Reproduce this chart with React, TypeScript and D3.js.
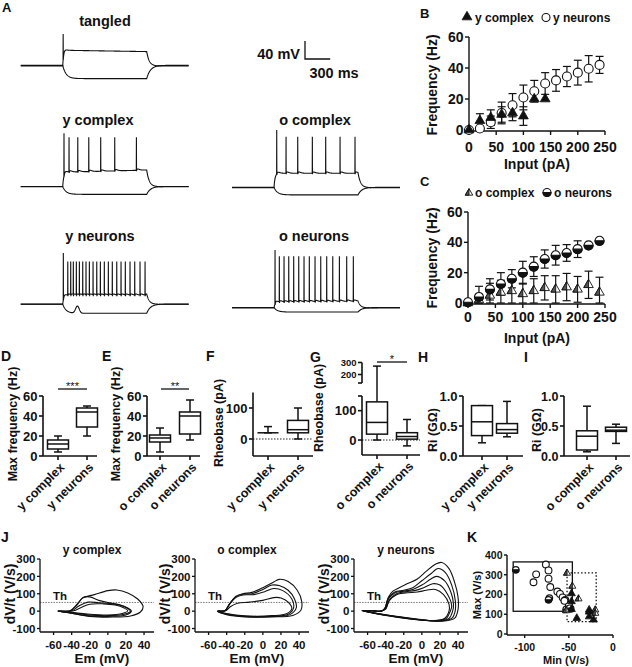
import React from "react";
import * as d3 from "d3";

const FONT = "'Liberation Sans', Arial, Helvetica, sans-serif";
type Pt = [number, number];

/* ---------------- Panel A : current-clamp traces (ms from step onset, mV) ---------------- */
const tangledSpikes = [5];
const yComplexSpikes = [15, 75, 179, 310, 452, 619, 877];
const oComplexSpikes = [32, 143, 282, 456, 615, 786, 964];
const yNeuronSpikes = [7, 60, 95, 126, 162, 198, 238, 277, 317, 361, 405, 448, 495, 543, 590, 643, 694, 745, 801, 857, 920, 980];
const oNeuronSpikes = [12, 63, 119, 175, 234, 294, 357, 420, 488, 556, 627, 699, 778, 865, 944];
// rest, plateau, hyperpolarised level, first spike peak, later spike peaks, plateau drift
const tangledLevels = [-65, -30, -93, 6, 6, -3];
const yComplexLevels = [-65, -33, -82, 54, 45, 5];
const oComplexLevels = [-65, -33, -81, 63, 48, 0];
const yNeuronLevels = [-65, -45, -85, 49, 30, 0];
const oNeuronLevels = [-65, -52, -74, 64, 50, 2];
const yNeuronRebound = [175, 16];

/* ---------------- Panels B, C : f-I curves ---------------- */
const inputPA = [0, 20, 40, 60, 80, 100, 120, 140, 160, 180, 200, 220, 240];
const yNeuronFreq = [0, 1, 5, 11, 16, 21, 25, 30, 32, 34.5, 37, 39.5, 42];
const yNeuronFreqErr = [0, 1, 4, 7, 7.5, 8, 7, 7, 7, 6.5, 8, 8.5, 5.5];
const yComplexInput = [0, 20, 40, 60, 80, 100, 120, 140];
const yComplexFreq = [0, 6, 8, 10, 11, 9, 20, 20];
const yComplexFreqErr = [0, 4.5, 5, 5, 5, 6, 0, 0];
const oNeuronFreq = [0.5, 4, 9, 12.5, 16, 20, 24, 29, 31.5, 33, 35.5, 38, 41];
const oNeuronFreqErr = [0, 7, 7, 7.5, 6, 7.5, 6.5, 6, 6.5, 5.5, 5.5, 0, 0];
const oComplexFreq = [0, 2, 5, 7, 8, 6, 8, 10, 9, 10.5, 9, 12, 7];
const oComplexFreqErr = [0, 3, 8, 8, 9, 7, 8, 8, 9, 9, 8.5, 9, 10];
const freqTicks = [0, 20, 40, 60];
const inputTicks = [0, 50, 100, 150, 200, 250];

/* ---------------- Panels D-I : box plots [min, q1, median, q3, max] ---------------- */
const yCats = ["y complex", "y neurons"];
const oCats = ["o complex", "o neurons"];
const yComplexMaxFreq = [4, 7, 12, 16, 20];
const yNeuronMaxFreq = [20, 29, 44, 48, 50];
const oComplexMaxFreq = [4, 14, 18, 21, 28];
const oNeuronMaxFreq = [16, 22, 40, 44, 56];
const yComplexRheo = [20, 20, 20, 20, 40];
const yNeuronRheo = [0, 20, 30, 60, 100];
const oComplexRheo = [0, 20, 60, 130, 270];
const oNeuronRheo = [-20, 3, 12, 25, 70];
const yComplexRi = [0.22, 0.34, 0.57, 0.84, 0.84];
const yNeuronRi = [0.32, 0.38, 0.44, 0.54, 0.91];
const oComplexRi = [0.07, 0.1, 0.33, 0.42, 0.83];
const oNeuronRi = [0.21, 0.41, 0.43, 0.48, 0.53];

/* ---------------- Panel J : phase plots (Em mV, dV/dt V/s) ---------------- */
const jYComplexLoops: Pt[][] = [
  [[-55, 0], [-42, 1], [-35, 30], [-28, 75], [-15, 95], [0, 118], [10, 122], [22, 105], [33, 70], [39, 25], [36, -5], [25, -28], [5, -34], [-20, -30], [-40, -12]],
  [[-55, 0], [-42, 1], [-34, 40], [-27, 80], [-20, 82], [-10, 62], [0, 50], [12, 38], [22, 18], [26, 0], [20, -22], [0, -30], [-25, -25], [-45, -8]],
  [[-55, 0], [-40, 2], [-32, 30], [-22, 52], [-10, 48], [2, 44], [14, 34], [22, 15], [25, 0], [18, -18], [0, -26], [-25, -20], [-45, -6]],
  [[-55, 0], [-38, 2], [-30, 20], [-20, 40], [-5, 42], [8, 35], [18, 18], [22, 2], [16, -14], [0, -22], [-25, -15], [-45, -4]],
];
const jOComplexLoops: Pt[][] = [
  [[-50, 0], [-42, 2], [-37, 40], [-30, 85], [-22, 100], [-12, 108], [0, 135], [12, 168], [18, 183], [28, 170], [38, 120], [43, 55], [42, 5], [33, -25], [10, -33], [-20, -33], [-40, -20]],
  [[-50, 0], [-42, 2], [-37, 40], [-30, 82], [-22, 97], [-12, 100], [0, 125], [10, 150], [18, 147], [28, 120], [35, 70], [37, 20], [30, -20], [10, -31], [-20, -31], [-40, -18]],
  [[-50, 0], [-42, 2], [-37, 38], [-30, 78], [-22, 93], [-10, 95], [2, 112], [12, 130], [22, 118], [32, 70], [34, 20], [28, -18], [10, -29], [-20, -29], [-40, -16]],
  [[-50, 0], [-41, 2], [-36, 25], [-28, 45], [-15, 52], [0, 62], [12, 78], [20, 76], [28, 52], [32, 15], [26, -15], [10, -26], [-20, -27], [-40, -14]],
];
const jYNeuronLoops: Pt[][] = [
  [[-66, 4], [-55, 2], [-45, 0], [-41, 15], [-37, 80], [-32, 115], [-25, 135], [-15, 160], [-5, 185], [5, 230], [15, 270], [22, 280], [30, 245], [36, 170], [40, 80], [40, 10], [36, -42], [20, -58], [0, -52], [-20, -40], [-40, -25], [-55, -10]],
  [[-66, 4], [-55, 2], [-45, 0], [-41, 15], [-37, 75], [-30, 110], [-20, 120], [-10, 135], [0, 175], [10, 215], [18, 245], [26, 222], [33, 150], [37, 60], [37, 5], [33, -42], [20, -57], [0, -51], [-20, -39], [-40, -24], [-55, -9]],
  [[-66, 4], [-55, 2], [-45, 0], [-41, 14], [-37, 70], [-30, 105], [-20, 115], [-10, 125], [0, 150], [10, 185], [16, 200], [25, 175], [32, 110], [35, 40], [34, 0], [30, -42], [18, -56], [0, -50], [-20, -38], [-40, -23], [-55, -9]],
  [[-66, 4], [-55, 2], [-45, 0], [-40, 14], [-36, 65], [-28, 100], [-18, 112], [-8, 118], [2, 135], [12, 158], [20, 150], [28, 100], [33, 30], [31, -5], [27, -42], [15, -55], [0, -50], [-20, -37], [-40, -22], [-55, -8]],
  [[-66, 4], [-55, 2], [-45, 0], [-40, 12], [-36, 60], [-28, 95], [-18, 105], [-5, 110], [5, 120], [15, 125], [24, 95], [30, 40], [30, 0], [25, -42], [12, -54], [0, -49], [-20, -36], [-40, -21], [-55, -8]],
];
const jXTicks = [-60, -40, -20, 0, 20, 40];
const jYTicks = [-100, 0, 100, 200, 300];
const threshold = 50;

/* ---------------- Panel K : Max vs Min dV/dt ---------------- */
const kYNeurons: Pt[] = [[-76, 352], [-87, 302], [-90, 262], [-73, 322], [-73, 280], [-71, 238], [-63, 215], [-60, 203], [-57, 185], [-54, 172], [-50, 147], [-48, 128], [-55, 168]];
const kONeurons: Pt[] = [[-110, 325], [-72, 182], [-73, 173], [-53, 125], [-49, 131]];
const kYComplex: Pt[] = [[-47, 205], [-47, 165], [-47, 125], [-41, 80], [-27, 122], [-27, 88], [-22, 72], [-27, 112]];
const kOComplex: Pt[] = [[-52, 308], [-46, 242], [-39, 178], [-20, 122], [-20, 105], [-53, 118]];
const kNeuronBox = [-113, -46, 115, 365];
const kComplexBox = [-52, -19, 63, 310];
const kXTicks = [-100, -50, 0];
const kYTicks = [0, 100, 200, 300, 400];

/* ================= helpers ================= */
function depolTrace(levels: number[], spikes: number[]): Pt[] {
  const [rest, plateau, , peak1, peakN, drift] = levels;
  const sub = (t: number): number => {
    if (t < 0) return rest;
    if (t > 1000) return rest + (sub(1000) - rest) * Math.exp(-(t - 1000) / 30);
    let v = rest + (plateau - rest) * (1 - Math.exp(-t / 12)) + drift * (t / 1000);
    let prev = -Infinity;
    for (const s of spikes) if (s <= t) prev = s;
    if (prev > -Infinity) {
      const dt = t - prev;
      v += -5 * Math.exp(-dt / 3) + 3 * (dt / 15) * Math.exp(1 - dt / 15);
    }
    return v;
  };
  const busy = (t: number) => spikes.some((s) => t > s - 1 && t < s + 2.2);
  const pts: Pt[] = [];
  for (let t = -500; t <= 1500; t += 2) if (!busy(t)) pts.push([t, sub(t)]);
  spikes.forEach((s, i) => {
    pts.push([s - 0.8, sub(s - 0.8) + 3]);
    pts.push([s + 0.5, i === 0 ? peak1 : peakN]);
    pts.push([s + 1.8, sub(s + 1.8)]);
  });
  pts.sort((a, b) => a[0] - b[0]);
  return pts;
}

function hyperTrace(levels: number[], shift: number, bump?: number[]): Pt[] {
  const rest = levels[0] + shift;
  const hyp = levels[2];
  const sub = (t: number): number => {
    if (t < 0) return rest;
    if (t > 1000) return rest + (sub(1000) - rest) * Math.exp(-(t - 1000) / 45);
    let v = rest + (hyp - rest) * (1 - Math.exp(-t / 40));
    if (bump) v += bump[1] * Math.exp(-(((t - bump[0]) / 30) ** 2));
    return v;
  };
  return d3.range(-500, 1501, 4).map((t) => [t, sub(t)] as Pt);
}

function Trace({ x0, baseY, levels, spikes, shift, bump }: any) {
  const xs = d3.scaleLinear([-500, 1500], [x0, x0 + 168]);
  const ys = d3.scaleLinear([levels[0], levels[0] + 100], [baseY, baseY - 45]);
  const line = d3.line<Pt>().x((d) => xs(d[0])).y((d) => ys(d[1]));
  return (
    <g fill="none" stroke="#111" strokeWidth={1.1}>
      <path d={line(hyperTrace(levels, shift, bump)) || ""} />
      <path d={line(depolTrace(levels, spikes)) || ""} />
    </g>
  );
}

function T({ x, y, fs = 13, anchor = "middle", children, dy, rot }: any) {
  if (rot !== undefined)
    return (
      <text transform={`translate(${x},${y}) rotate(${rot})`} textAnchor={anchor} fontSize={fs} dy={dy}>
        {children}
      </text>
    );
  return (
    <text x={x} y={y} textAnchor={anchor} fontSize={fs} dy={dy}>
      {children}
    </text>
  );
}

function YAxis({ x, scale, ticks, fmt = (v: number) => String(v), fs, top, bottom, tl = 4, sw = 1.4 }: any) {
  return (
    <g>
      <line x1={x} x2={x} y1={top} y2={bottom} stroke="#111" strokeWidth={sw} />
      {ticks.map((t: number) => (
        <g key={t}>
          <line x1={x - tl} x2={x} y1={scale(t)} y2={scale(t)} stroke="#111" strokeWidth={sw} />
          <text x={x - tl - 1.5} y={scale(t)} dy="0.36em" textAnchor="end" fontSize={fs}>
            {fmt(t)}
          </text>
        </g>
      ))}
    </g>
  );
}

function XAxis({ y, scale, ticks, fs, left, right, tl = 4, labelY, sw = 1.4 }: any) {
  return (
    <g>
      <line x1={left} x2={right} y1={y} y2={y} stroke="#111" strokeWidth={sw} />
      {ticks.map((t: number) => (
        <g key={t}>
          <line x1={scale(t)} x2={scale(t)} y1={y} y2={y + tl} stroke="#111" strokeWidth={sw} />
          <text x={scale(t)} y={labelY} textAnchor="middle" fontSize={fs}>
            {t}
          </text>
        </g>
      ))}
    </g>
  );
}

function ErrBars({ xs, ys, xv, mean, err }: any) {
  return (
    <g stroke="#111" strokeWidth={1.2}>
      {xv.map((x: number, i: number) => {
        if (!err[i]) return null;
        const cx = xs(x);
        const hi = ys(mean[i] + err[i]);
        const lo = ys(Math.max(0, mean[i] - err[i]));
        return (
          <g key={i}>
            <line x1={cx} x2={cx} y1={hi} y2={lo} />
            <line x1={cx - 4} x2={cx + 4} y1={hi} y2={hi} />
            <line x1={cx - 4} x2={cx + 4} y1={lo} y2={lo} />
          </g>
        );
      })}
    </g>
  );
}

const triPath = d3.symbol(d3.symbolTriangle, 42)() || "";
const triSmall = d3.symbol(d3.symbolTriangle, 26)() || "";

function FilledTri({ x, y, small }: any) {
  return <path d={small ? triSmall : triPath} transform={`translate(${x},${y})`} fill="#111" stroke="#111" strokeWidth={0.8} />;
}
function HalfTri({ x, y, s = 9.5 }: any) {
  const h = (s * Math.sqrt(3)) / 2;
  const top = -(2 * h) / 3;
  const bot = h / 3;
  return (
    <g transform={`translate(${x},${y})`} stroke="#111" strokeWidth={0.9}>
      <path d={`M0,${top}L${-s / 2},${bot}L${s / 2},${bot}Z`} fill="#fff" />
      <path d={`M0,${top}L${-s / 2},${bot}L0,${bot}Z`} fill="#555" />
    </g>
  );
}
function OpenCircle({ x, y, r = 4.5 }: any) {
  return <circle cx={x} cy={y} r={r} fill="#fff" stroke="#111" strokeWidth={1.1} />;
}
function HalfCircle({ x, y, r = 4.5 }: any) {
  return (
    <g transform={`translate(${x},${y})`}>
      <circle r={r} fill="#fff" stroke="#111" strokeWidth={1.1} />
      <path d={`M${-r},0A${r},${r} 0 0 0 ${r},0Z`} fill="#111" stroke="#111" strokeWidth={1.1} />
    </g>
  );
}

function Box({ cx, vals, ys, ysMax, w = 21 }: any) {
  const [mn, q1, md, q3, mx] = vals;
  const yMax = ysMax ? ysMax(mx) : ys(mx);
  return (
    <g stroke="#111" strokeWidth={1.5} fill="none">
      <line x1={cx} x2={cx} y1={yMax} y2={ys(q3)} />
      <line x1={cx} x2={cx} y1={ys(q1)} y2={ys(mn)} />
      <line x1={cx - 4} x2={cx + 4} y1={yMax} y2={yMax} />
      <line x1={cx - 4} x2={cx + 4} y1={ys(mn)} y2={ys(mn)} />
      <rect x={cx - w / 2} y={ys(q3)} width={w} height={Math.max(0, ys(q1) - ys(q3))} fill="#fff" />
      <line x1={cx - w / 2} x2={cx + w / 2} y1={ys(md)} y2={ys(md)} />
    </g>
  );
}

function CatLabels({ cats, centers, axisY, fs = 12.5 }: any) {
  return (
    <g>
      {cats.map((c: string, i: number) => (
        <T key={c} x={centers[i] + 4} y={axisY + 9} rot={-45} anchor="end" dy="0.35em" fs={fs}>
          {c}
        </T>
      ))}
    </g>
  );
}

function SigBar({ x1, x2, y, stars }: any) {
  return (
    <g>
      <line x1={x1} x2={x2} y1={y} y2={y} stroke="#111" strokeWidth={1.3} />
      <text x={(x1 + x2) / 2} y={y + 1} textAnchor="middle" fontSize={11} fontWeight="normal">
        {stars}
      </text>
    </g>
  );
}

function BoxPanel({ axisX, endX, ys, ticks, fmt, top, bottom, cats, centers, data, label, labelX, labelY, zeroLine, tfs = 13 }: any) {
  return (
    <g>
      {zeroLine && <line x1={axisX} x2={endX} y1={ys(0)} y2={ys(0)} stroke="#222" strokeWidth={1} strokeDasharray="1.5,1.5" />}
      <YAxis x={axisX} scale={ys} ticks={ticks} fmt={fmt} fs={tfs} top={top} bottom={bottom} tl={4} sw={1.6} />
      <line x1={axisX} x2={endX} y1={bottom} y2={bottom} stroke="#111" strokeWidth={1.6} />
      {centers.map((c: number) => (
        <line key={c} x1={c} x2={c} y1={bottom} y2={bottom + 4} stroke="#111" strokeWidth={1.6} />
      ))}
      {data.map((d: number[], i: number) => (
        <Box key={i} cx={centers[i]} vals={d} ys={ys} />
      ))}
      <CatLabels cats={cats} centers={centers} axisY={bottom} />
      <T x={labelX} y={labelY} rot={-90} dy="0.35em" fs={12.5}>
        {label}
      </T>
    </g>
  );
}

function JPanel({ axisX, title, loops }: any) {
  const xs = d3.scaleLinear([-75, 51], [axisX, axisX + 114]);
  const ys = d3.scaleLinear([-120, 300], [632, 559]);
  const line = d3.line<Pt>().x((d) => xs(d[0])).y((d) => ys(d[1])).curve(d3.curveCatmullRomClosed.alpha(0.5));
  return (
    <g>
      <T x={axisX + 52} y={554} fs={12}>
        {title}
      </T>
      <line x1={axisX} x2={axisX + 114} y1={ys(threshold)} y2={ys(threshold)} stroke="#777" strokeWidth={1} strokeDasharray="1.5,1.2" />
      <T x={axisX + 13} y={ys(threshold) - 2.5} anchor="start" fs={11.5}>
        Th
      </T>
      <g fill="none" stroke="#111" strokeWidth={1.1}>
        {loops.map((lp: Pt[], i: number) => (
          <path key={i} d={line(lp) || ""} />
        ))}
      </g>
      <YAxis x={axisX} scale={ys} ticks={jYTicks} fs={11.5} top={ys(300)} bottom={632} tl={3} sw={1.3} />
      <XAxis y={632} scale={xs} ticks={jXTicks} fs={11.5} left={axisX} right={axisX + 114} tl={3} labelY={649} sw={1.3} />
      <T x={axisX + 62} y={663} fs={13.5}>
        Em (mV)
      </T>
      <T x={axisX - 30} y={594} rot={-90} dy="0.35em" fs={14}>
        dV/t (V/s)
      </T>
    </g>
  );
}

/* ================= App ================= */
export default function App() {
  const bX = d3.scaleLinear([0, 250], [469, 605]);
  const bY = d3.scaleLinear([0, 60], [130, 37]);
  const cX = d3.scaleLinear([0, 250], [468, 605]);
  const cY = d3.scaleLinear([0, 60], [303, 212]);

  const dY = d3.scaleLinear([0, 60], [456, 396]);
  const fY = d3.scaleLinear([0, 100], [439, 408]);
  const gY = d3.scaleLinear([-50, 150], [454.7, 396]);
  const gYU = d3.scaleLinear([200, 300], [374.5, 362.5]);
  const hY = d3.scaleLinear([0, 1], [456, 396]);

  const kX = d3.scaleLinear([-120, 0], [507, 613]);
  const kY = d3.scaleLinear([0, 400], [634, 555]);

  const fmt1 = (v: number) => v.toFixed(1);

  return (
    <svg width={632} height={667} viewBox="0 0 632 667" style={{ position: "absolute", left: 0, top: 0, background: "#fff" }} fontFamily={FONT} fontWeight="bold" fill="#111">
      <rect width={632} height={667} fill="#fff" />
      {/* Panel letters */}
      <T x={2} y={12} anchor="start" fs={13}>A</T>
      <T x={420} y={18} anchor="start" fs={13}>B</T>
      <T x={420} y={186} anchor="start" fs={13}>C</T>
      <T x={1} y={361} anchor="start" fs={14}>D</T>
      <T x={102} y={361} anchor="start" fs={14}>E</T>
      <T x={206} y={361} anchor="start" fs={14}>F</T>
      <T x={310} y={362} anchor="start" fs={14}>G</T>
      <T x={418} y={362} anchor="start" fs={14}>H</T>
      <T x={524} y={362} anchor="start" fs={14}>I</T>
      <T x={1} y={542} anchor="start" fs={14}>J</T>
      <T x={467} y={542} anchor="start" fs={14}>K</T>

      {/* ---- Panel A ---- */}
      <T x={105} y={26} fs={14.5}>tangled</T>
      <T x={98} y={125} fs={14.5}>y complex</T>
      <T x={315} y={125} fs={14.5}>o complex</T>
      <T x={100} y={241} fs={14.5}>y neurons</T>
      <T x={314} y={241} fs={14.5}>o neurons</T>
      <Trace x0={20.7} baseY={66} levels={tangledLevels} spikes={tangledSpikes} shift={1.5} />
      <Trace x0={20.7} baseY={186.7} levels={yComplexLevels} spikes={yComplexSpikes} shift={0.5} />
      <Trace x0={232} baseY={187.7} levels={oComplexLevels} spikes={oComplexSpikes} shift={0.8} />
      <Trace x0={20.7} baseY={304.3} levels={yNeuronLevels} spikes={yNeuronSpikes} shift={0.5} bump={yNeuronRebound} />
      <Trace x0={232} baseY={308} levels={oNeuronLevels} spikes={oNeuronSpikes} shift={1} />
      {/* scale bar: 40 mV x 300 ms */}
      <path d={`M305,${59 - 40 * 0.45}V59H${305 + 300 * 0.084}`} fill="none" stroke="#111" strokeWidth={1.3} />
      <T x={300} y={59} anchor="end" fs={14.5}>40 mV</T>
      <T x={334} y={78} fs={14.5}>300 ms</T>

      {/* ---- Panel B ---- */}
      <FilledTri x={467} y={17} />
      <T x={475} y={22} anchor="start" fs={12}>y complex</T>
      <OpenCircle x={546} y={17.5} r={4} />
      <T x={553} y={22} anchor="start" fs={12}>y neurons</T>
      <YAxis x={469} scale={bY} ticks={freqTicks} fs={14} top={bY(60)} bottom={131} tl={4} />
      <XAxis y={131} scale={bX} ticks={inputTicks} fs={14} left={469} right={605} tl={4} labelY={152} />
      <T x={537} y={169} fs={14}>Input (pA)</T>
      <T x={432} y={85} rot={-90} dy="0.35em" fs={14}>Frequency (Hz)</T>
      <ErrBars xs={bX} ys={bY} xv={inputPA} mean={yNeuronFreq} err={yNeuronFreqErr} />
      <ErrBars xs={bX} ys={bY} xv={yComplexInput} mean={yComplexFreq} err={yComplexFreqErr} />
      {inputPA.map((x, i) => (
        <OpenCircle key={"bo" + i} x={bX(x)} y={bY(yNeuronFreq[i])} />
      ))}
      {yComplexInput.map((x, i) => (
        <FilledTri key={"bt" + i} x={bX(x)} y={bY(yComplexFreq[i])} />
      ))}

      {/* ---- Panel C ---- */}
      <HalfTri x={469} y={193} s={7.5} />
      <T x={475} y={197} anchor="start" fs={12}>o complex</T>
      <HalfCircle x={547} y={192.5} r={4} />
      <T x={554} y={197} anchor="start" fs={12}>o neurons</T>
      <YAxis x={468} scale={cY} ticks={freqTicks} fs={14} top={cY(60)} bottom={304} tl={4} />
      <XAxis y={304} scale={cX} ticks={inputTicks} fs={14} left={468} right={605} tl={4} labelY={322} />
      <T x={537} y={343} fs={14}>Input (pA)</T>
      <T x={432} y={258} rot={-90} dy="0.35em" fs={14}>Frequency (Hz)</T>
      <ErrBars xs={cX} ys={cY} xv={inputPA} mean={oComplexFreq} err={oComplexFreqErr} />
      <ErrBars xs={cX} ys={cY} xv={inputPA} mean={oNeuronFreq} err={oNeuronFreqErr} />
      {inputPA.map((x, i) => (
        <HalfTri key={"ct" + i} x={cX(x)} y={cY(oComplexFreq[i])} />
      ))}
      {inputPA.map((x, i) => (
        <HalfCircle key={"cc" + i} x={cX(x)} y={cY(oNeuronFreq[i])} />
      ))}

      {/* ---- Panels D-I ---- */}
      <BoxPanel axisX={43} endX={97} ys={dY} ticks={[0, 20, 40, 60]} top={396} bottom={456} cats={yCats} centers={[58, 87]} data={[yComplexMaxFreq, yNeuronMaxFreq]} label="Max frequency (Hz)" labelX={13} labelY={424} />
      <SigBar x1={58} x2={87} y={389} stars="***" />
      <BoxPanel axisX={147} endX={200} ys={dY} ticks={[0, 20, 40, 60]} top={396} bottom={456} cats={oCats} centers={[160, 190]} data={[oComplexMaxFreq, oNeuronMaxFreq]} label="Max frequency (Hz)" labelX={116} labelY={424} />
      <SigBar x1={161} x2={189} y={389} stars="**" />
      <BoxPanel axisX={253} endX={313} ys={fY} ticks={[0, 100]} top={392.5} bottom={456} cats={yCats} centers={[268, 298]} data={[yComplexRheo, yNeuronRheo]} label="Rheobase (pA)" labelX={219} labelY={423} zeroLine />

      {/* G with broken axis */}
      <g>
        <line x1={362} x2={420} y1={gY(0)} y2={gY(0)} stroke="#222" strokeWidth={1} strokeDasharray="1.5,1.5" />
        <YAxis x={362} scale={gY} ticks={[0, 100]} fs={13} top={396} bottom={455} tl={4} sw={1.6} />
        <line x1={358} x2={362} y1={396} y2={396} stroke="#111" strokeWidth={1.6} />
        <YAxis x={362} scale={gYU} ticks={[200, 300]} fs={9.5} top={362.5} bottom={383} tl={4} sw={1.6} />
        <line x1={358} x2={362} y1={383} y2={383} stroke="#111" strokeWidth={1.6} />
        <line x1={362} x2={420} y1={455} y2={455} stroke="#111" strokeWidth={1.6} />
        {[377, 407].map((c) => (
          <line key={c} x1={c} x2={c} y1={455} y2={459} stroke="#111" strokeWidth={1.6} />
        ))}
        <Box cx={377} vals={oComplexRheo} ys={gY} ysMax={gYU} />
        <Box cx={407} vals={oNeuronRheo} ys={gY} />
        <CatLabels cats={oCats} centers={[377, 407]} axisY={455} />
        <T x={319} y={408} rot={-90} dy="0.35em" fs={12.5}>Rheobase (pA)</T>
        <SigBar x1={377} x2={407} y={362} stars="*" />
      </g>

      <BoxPanel axisX={463} endX={523} ys={hY} ticks={[0, 0.5, 1]} fmt={fmt1} top={396} bottom={456} cats={yCats} centers={[482, 507]} data={[yComplexRi, yNeuronRi]} label="Ri (GΩ)" labelX={433} labelY={430} />
      <BoxPanel axisX={564} endX={630} ys={hY} ticks={[0, 0.5, 1]} fmt={fmt1} top={396} bottom={456} cats={oCats} centers={[587, 616]} data={[oComplexRi, oNeuronRi]} label="Ri (GΩ)" labelX={537} labelY={430} tfs={12.5} />

      {/* ---- Panel J ---- */}
      <JPanel axisX={40} title="y complex" loops={jYComplexLoops} />
      <JPanel axisX={195} title="o complex" loops={jOComplexLoops} />
      <JPanel axisX={354} title="y neurons" loops={jYNeuronLoops} />

      {/* ---- Panel K ---- */}
      <g>
        <rect x={kX(kNeuronBox[0])} y={kY(kNeuronBox[3])} width={kX(kNeuronBox[1]) - kX(kNeuronBox[0])} height={kY(kNeuronBox[2]) - kY(kNeuronBox[3])} fill="none" stroke="#111" strokeWidth={1.3} />
        <rect x={kX(kComplexBox[0])} y={kY(kComplexBox[3])} width={kX(kComplexBox[1]) - kX(kComplexBox[0])} height={kY(kComplexBox[2]) - kY(kComplexBox[3])} fill="none" stroke="#111" strokeWidth={1.3} strokeDasharray="1.5,2" />
        {kYNeurons.map((p, i) => (
          <OpenCircle key={"ky" + i} x={kX(p[0])} y={kY(p[1])} r={3.4} />
        ))}
        {kONeurons.map((p, i) => (
          <HalfCircle key={"ko" + i} x={kX(p[0])} y={kY(p[1])} r={3.2} />
        ))}
        {kOComplex.map((p, i) => (
          <HalfTri key={"kt" + i} x={kX(p[0])} y={kY(p[1])} s={7} />
        ))}
        {kYComplex.map((p, i) => (
          <FilledTri key={"kc" + i} x={kX(p[0])} y={kY(p[1])} small />
        ))}
        <YAxis x={507} scale={kY} ticks={kYTicks} fs={10.5} top={555} bottom={635} tl={3} sw={1.4} />
        <XAxis y={635} scale={kX} ticks={kXTicks} fs={10.5} left={507} right={613} tl={3} labelY={651} sw={1.4} />
        <T x={566} y={664} fs={11}>Min (V/s)</T>
        <T x={477} y={595} rot={-90} dy="0.35em" fs={11}>Max (V/s)</T>
      </g>
    </svg>
  );
}
